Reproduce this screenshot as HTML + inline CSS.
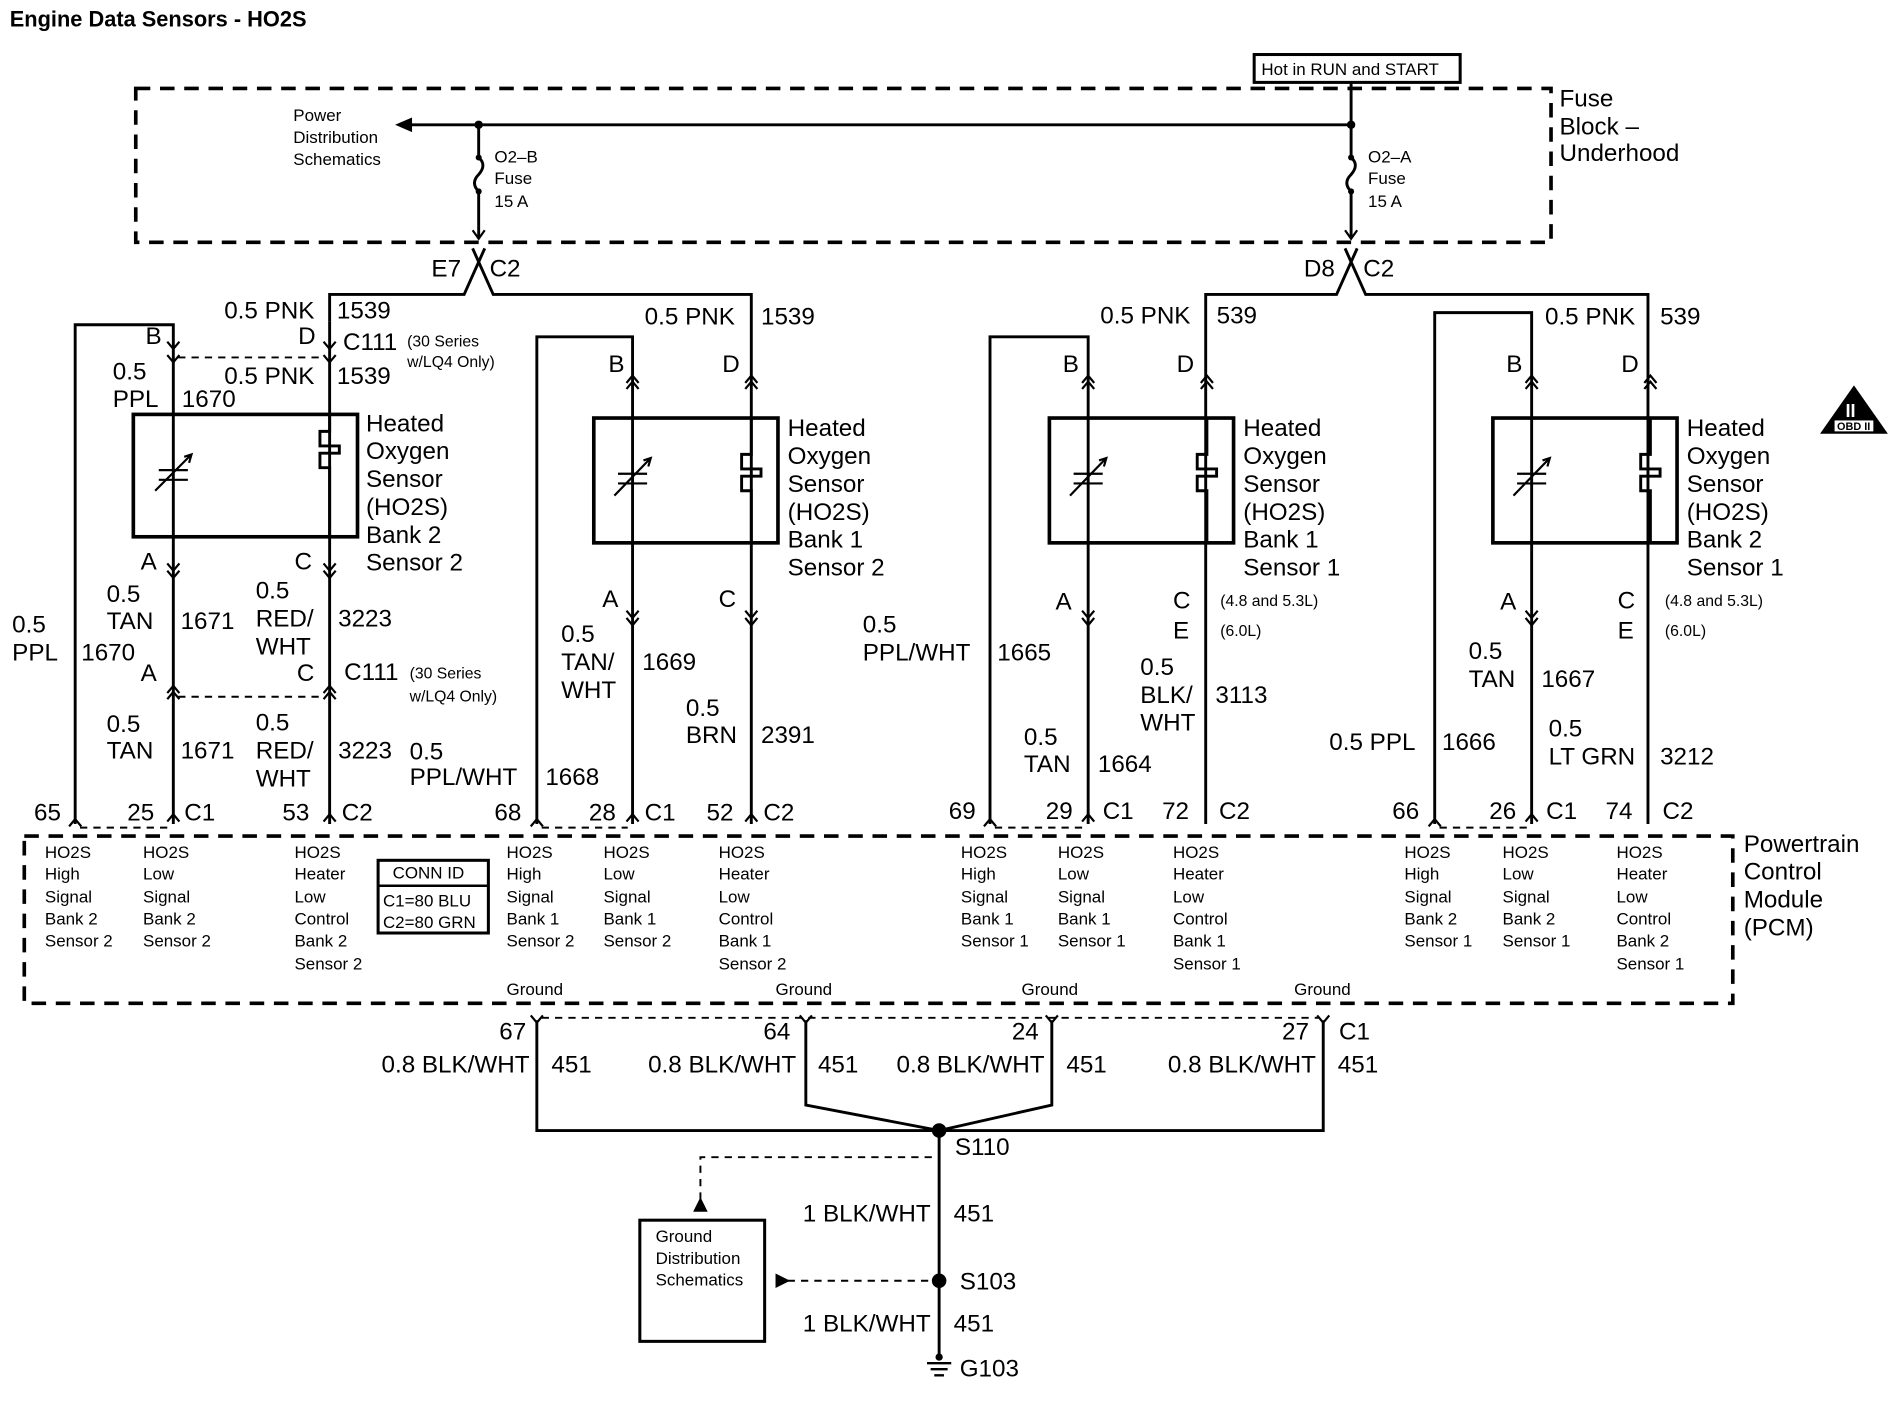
<!DOCTYPE html>
<html><head><meta charset="utf-8"><style>
html,body{margin:0;padding:0;background:#fff}
svg{display:block}
text{font-family:"Liberation Sans",Arial,sans-serif;fill:#000}
.b{font-size:20px}.s{font-size:14px}.m{font-size:13px}
.w{stroke:#000;stroke-width:2.4;fill:none}
.d{stroke:#000;stroke-width:1.6;fill:none;stroke-dasharray:6,5}
.D{stroke:#000;stroke-width:3;fill:none;stroke-dasharray:12,8}
.c{stroke:#000;stroke-width:1.8;fill:none}
</style></head><body>
<svg width="1894" height="1408" viewBox="0 0 1563 1162" xmlns="http://www.w3.org/2000/svg">
<rect width="1563" height="1162" fill="#fff"/>
<text x="8" y="22" style="font-size:18px;font-weight:bold">Engine Data Sensors - HO2S</text>

<!-- Fuse block -->
<rect x="1035" y="45" width="170" height="23" fill="none" stroke="#000" stroke-width="2.5"/>
<text x="1041" y="62" class="s">Hot in RUN and START</text>
<rect x="112" y="73" width="1168" height="127" class="D"/>
<text x="1287" y="88" class="b">Fuse</text><text x="1287" y="111" class="b">Block –</text><text x="1287" y="133" class="b">Underhood</text>
<text x="242" y="100" class="s">Power</text><text x="242" y="118" class="s">Distribution</text><text x="242" y="136" class="s">Schematics</text>
<path class="w" d="M338,103 H1115 V68"/>
<polygon points="326,103 340,97 340,109"/>
<circle cx="395" cy="103" r="3.5"/><circle cx="1115" cy="103" r="3.5"/>
<path class="w" d="M395,103 V130 M395,158 V196 M1115,103 V130 M1115,158 V196"/>
<path class="w" d="M395,130 q7,6 0,14 q-7,7 0,14 M1115,130 q7,6 0,14 q-7,7 0,14"/>
<circle cx="395" cy="130" r="2.5"/><circle cx="395" cy="158" r="2.5"/>
<circle cx="1115" cy="130" r="2.5"/><circle cx="1115" cy="158" r="2.5"/>
<path class="c" d="M390,190 L395,197 L400,190 M1110,190 L1115,197 L1120,190"/>
<text x="408" y="134" class="s">O2–B</text><text x="408" y="152" class="s">Fuse</text><text x="408" y="171" class="s">15 A</text>
<text x="1129" y="134" class="s">O2–A</text><text x="1129" y="152" class="s">Fuse</text><text x="1129" y="171" class="s">15 A</text>

<!-- E7 / D8 connectors -->
<path class="w" d="M272,265 V243 H383 L400,205 M390,205 L407,243 H620 V680"/>
<text x="356" y="228" class="b">E7</text><text x="404" y="228" class="b">C2</text>
<path class="w" d="M995,680 V243 H1103 L1120,205 M1110,205 L1127,243 H1360 V680"/>
<text x="1076" y="228" class="b">D8</text><text x="1125" y="228" class="b">C2</text>

<!-- Left sensor B2S2 -->
<path class="w" d="M62,680 V268 H143 V680 M272,265 V680"/>
<path class="c" d="M138,282 L143,288 L148,282 M138,293 L143,299 L148,293 M267,282 L272,288 L277,282 M267,293 L272,299 L277,293"/>
<path class="d" d="M147,295 H268"/>
<rect x="110" y="342" width="185" height="101" fill="none" stroke="#000" stroke-width="3"/>
<path class="w" d="M272,342 V356 H264 V368 H280 V374 H264 V386 H272 V443" fill="#fff"/>
<path class="c" d="M131,388 H155 M131,396 H155" stroke-width="2.4"/>
<path class="c" d="M128,405 L158,375 M152,377 L158,375 L156,382"/>
<path class="c" d="M138,465 L143,471 L148,465 M138,471 L143,477 L148,471 M267,465 L272,471 L277,465 M267,471 L272,477 L277,471"/>
<path class="c" d="M138,572 L143,566 L148,572 M138,577 L143,571 L148,577 M267,572 L272,566 L277,572 M267,577 L272,571 L277,577"/>
<path class="d" d="M147,575 H268"/>
<text x="185" y="263" class="b">0.5 PNK</text><text x="278" y="263" class="b">1539</text>
<text x="120" y="284" class="b">B</text><text x="246" y="284" class="b">D</text><text x="283" y="289" class="b">C111</text>
<text x="336" y="286" class="m">(30 Series</text><text x="336" y="303" class="m">w/LQ4 Only)</text>
<text x="93" y="313" class="b">0.5</text><text x="93" y="336" class="b">PPL</text><text x="150" y="336" class="b">1670</text>
<text x="185" y="317" class="b">0.5 PNK</text><text x="278" y="317" class="b">1539</text>
<text x="302" y="356" class="b">Heated</text><text x="302" y="379" class="b">Oxygen</text><text x="302" y="402" class="b">Sensor</text><text x="302" y="425" class="b">(HO2S)</text><text x="302" y="448" class="b">Bank 2</text><text x="302" y="471" class="b">Sensor 2</text>
<text x="116" y="470" class="b">A</text><text x="243" y="470" class="b">C</text>
<text x="88" y="497" class="b">0.5</text><text x="88" y="519" class="b">TAN</text><text x="149" y="519" class="b">1671</text>
<text x="211" y="494" class="b">0.5</text><text x="211" y="517" class="b">RED/</text><text x="211" y="540" class="b">WHT</text><text x="279" y="517" class="b">3223</text>
<text x="10" y="522" class="b">0.5</text><text x="10" y="545" class="b">PPL</text><text x="67" y="545" class="b">1670</text>
<text x="116" y="562" class="b">A</text><text x="245" y="562" class="b">C</text><text x="284" y="561" class="b">C111</text>
<text x="338" y="560" class="m">(30 Series</text><text x="338" y="579" class="m">w/LQ4 Only)</text>
<text x="88" y="604" class="b">0.5</text><text x="88" y="626" class="b">TAN</text><text x="149" y="626" class="b">1671</text>
<text x="211" y="603" class="b">0.5</text><text x="211" y="626" class="b">RED/</text><text x="211" y="649" class="b">WHT</text><text x="279" y="626" class="b">3223</text>
<text x="338" y="627" class="b">0.5</text><text x="338" y="648" class="b">PPL/WHT</text><text x="450" y="648" class="b">1668</text>
<text x="28" y="677" class="b">65</text><text x="105" y="677" class="b">25</text><text x="152" y="677" class="b">C1</text><text x="233" y="677" class="b">53</text><text x="282" y="677" class="b">C2</text>

<!-- Generic sensors -->
<g id="sA">
<rect x="490" y="345" width="152" height="103" fill="none" stroke="#000" stroke-width="3"/>
<path class="c" d="M517,316 L522,310 L527,316 M517,321 L522,315 L527,321 M615,316 L620,310 L625,316 M615,321 L620,315 L625,321"/>
<path class="w" d="M522,310 V680"/>
<path class="w" d="M620,345 V375 H612 V387 H628 V393 H612 V405 H620 V448" fill="#fff"/>
<path class="c" d="M510,391 H534 M510,399 H534" stroke-width="2.4"/>
<path class="c" d="M507,409 L537,378 M531,380 L537,378 L535,385"/>
<path class="c" d="M517,504 L522,510 L527,504 M517,510 L522,516 L527,510"/>
<path class="c" d="M517,678 L522,672 L527,678"/>
</g>
<path class="w" d="M443,680 V278 H522 V312"/>
<path class="c" d="M615,504 L620,510 L625,504 M615,510 L620,516 L625,510 M615,678 L620,672 L625,678 M57,682 L62,676 L67,682 M138,678 L143,672 L148,678 M267,678 L272,672 L277,678 M438,682 L443,676 L448,682"/>
<path class="d" d="M66,683 H139 M447,683 H518"/>
<text x="532" y="268" class="b">0.5 PNK</text><text x="628" y="268" class="b">1539</text>
<text x="502" y="307" class="b">B</text><text x="596" y="307" class="b">D</text>
<text x="650" y="360" class="b">Heated</text><text x="650" y="383" class="b">Oxygen</text><text x="650" y="406" class="b">Sensor</text><text x="650" y="429" class="b">(HO2S)</text><text x="650" y="452" class="b">Bank 1</text><text x="650" y="475" class="b">Sensor 2</text>
<text x="497" y="501" class="b">A</text><text x="593" y="501" class="b">C</text>
<text x="463" y="530" class="b">0.5</text><text x="463" y="553" class="b">TAN/</text><text x="463" y="576" class="b">WHT</text><text x="530" y="553" class="b">1669</text>
<text x="566" y="591" class="b">0.5</text><text x="566" y="613" class="b">BRN</text><text x="628" y="613" class="b">2391</text>
<text x="408" y="677" class="b">68</text><text x="486" y="677" class="b">28</text><text x="532" y="677" class="b">C1</text><text x="583" y="677" class="b">52</text><text x="630" y="677" class="b">C2</text>

<use href="#sA" transform="translate(376,0)"/>
<path class="w" d="M817,680 V278 H898 V312"/>
<path class="c" d="M812,682 L817,676 L822,682"/><path class="d" d="M821,683 H894"/>
<text x="908" y="267" class="b">0.5 PNK</text><text x="1004" y="267" class="b">539</text>
<text x="877" y="307" class="b">B</text><text x="971" y="307" class="b">D</text>
<text x="1026" y="360" class="b">Heated</text><text x="1026" y="383" class="b">Oxygen</text><text x="1026" y="406" class="b">Sensor</text><text x="1026" y="429" class="b">(HO2S)</text><text x="1026" y="452" class="b">Bank 1</text><text x="1026" y="475" class="b">Sensor 1</text>
<text x="871" y="503" class="b">A</text><text x="968" y="502" class="b">C</text><text x="968" y="527" class="b">E</text>
<text x="1007" y="500" class="m">(4.8 and 5.3L)</text><text x="1007" y="525" class="m">(6.0L)</text>
<text x="712" y="522" class="b">0.5</text><text x="712" y="545" class="b">PPL/WHT</text><text x="823" y="545" class="b">1665</text>
<text x="941" y="557" class="b">0.5</text><text x="941" y="580" class="b">BLK/</text><text x="941" y="603" class="b">WHT</text><text x="1003" y="580" class="b">3113</text>
<text x="845" y="615" class="b">0.5</text><text x="845" y="637" class="b">TAN</text><text x="906" y="637" class="b">1664</text>
<text x="783" y="676" class="b">69</text><text x="863" y="676" class="b">29</text><text x="910" y="676" class="b">C1</text><text x="959" y="676" class="b">72</text><text x="1006" y="676" class="b">C2</text>

<use href="#sA" transform="translate(742,0)"/>
<path class="w" d="M1184,680 V258 H1264 V312"/>
<path class="c" d="M1179,682 L1184,676 L1189,682"/><path class="d" d="M1188,683 H1260"/>
<text x="1275" y="268" class="b">0.5 PNK</text><text x="1370" y="268" class="b">539</text>
<text x="1243" y="307" class="b">B</text><text x="1338" y="307" class="b">D</text>
<text x="1392" y="360" class="b">Heated</text><text x="1392" y="383" class="b">Oxygen</text><text x="1392" y="406" class="b">Sensor</text><text x="1392" y="429" class="b">(HO2S)</text><text x="1392" y="452" class="b">Bank 2</text><text x="1392" y="475" class="b">Sensor 1</text>
<text x="1238" y="503" class="b">A</text><text x="1335" y="502" class="b">C</text><text x="1335" y="527" class="b">E</text>
<text x="1374" y="500" class="m">(4.8 and 5.3L)</text><text x="1374" y="525" class="m">(6.0L)</text>
<text x="1212" y="544" class="b">0.5</text><text x="1212" y="567" class="b">TAN</text><text x="1272" y="567" class="b">1667</text>
<text x="1097" y="619" class="b">0.5 PPL</text><text x="1190" y="619" class="b">1666</text>
<text x="1278" y="608" class="b">0.5</text><text x="1278" y="631" class="b">LT GRN</text><text x="1370" y="631" class="b">3212</text>
<text x="1149" y="676" class="b">66</text><text x="1229" y="676" class="b">26</text><text x="1276" y="676" class="b">C1</text><text x="1325" y="676" class="b">74</text><text x="1372" y="676" class="b">C2</text>

<!-- OBD II -->
<polygon points="1530,318 1502,358 1558,358" fill="#000"/>
<text x="1523" y="344" style="font-size:15px;font-weight:bold;fill:#fff">II</text>
<rect x="1514" y="347" width="32" height="9" fill="#fff"/>
<text x="1516" y="355" style="font-size:9px;font-weight:bold">OBD II</text>

<!-- PCM -->
<rect x="20" y="690" width="1410" height="138" class="D"/>
<text x="1439" y="703" class="b">Powertrain</text><text x="1439" y="726" class="b">Control</text><text x="1439" y="749" class="b">Module</text><text x="1439" y="772" class="b">(PCM)</text>
<g class="s">
<text x="37" y="708">HO2S</text><text x="37" y="726">High</text><text x="37" y="745">Signal</text><text x="37" y="763">Bank 2</text><text x="37" y="781">Sensor 2</text>
<text x="118" y="708">HO2S</text><text x="118" y="726">Low</text><text x="118" y="745">Signal</text><text x="118" y="763">Bank 2</text><text x="118" y="781">Sensor 2</text>
<text x="243" y="708">HO2S</text><text x="243" y="726">Heater</text><text x="243" y="745">Low</text><text x="243" y="763">Control</text><text x="243" y="781">Bank 2</text><text x="243" y="800">Sensor 2</text>
<text x="418" y="708">HO2S</text><text x="418" y="726">High</text><text x="418" y="745">Signal</text><text x="418" y="763">Bank 1</text><text x="418" y="781">Sensor 2</text>
<text x="498" y="708">HO2S</text><text x="498" y="726">Low</text><text x="498" y="745">Signal</text><text x="498" y="763">Bank 1</text><text x="498" y="781">Sensor 2</text>
<text x="593" y="708">HO2S</text><text x="593" y="726">Heater</text><text x="593" y="745">Low</text><text x="593" y="763">Control</text><text x="593" y="781">Bank 1</text><text x="593" y="800">Sensor 2</text>
<text x="793" y="708">HO2S</text><text x="793" y="726">High</text><text x="793" y="745">Signal</text><text x="793" y="763">Bank 1</text><text x="793" y="781">Sensor 1</text>
<text x="873" y="708">HO2S</text><text x="873" y="726">Low</text><text x="873" y="745">Signal</text><text x="873" y="763">Bank 1</text><text x="873" y="781">Sensor 1</text>
<text x="968" y="708">HO2S</text><text x="968" y="726">Heater</text><text x="968" y="745">Low</text><text x="968" y="763">Control</text><text x="968" y="781">Bank 1</text><text x="968" y="800">Sensor 1</text>
<text x="1159" y="708">HO2S</text><text x="1159" y="726">High</text><text x="1159" y="745">Signal</text><text x="1159" y="763">Bank 2</text><text x="1159" y="781">Sensor 1</text>
<text x="1240" y="708">HO2S</text><text x="1240" y="726">Low</text><text x="1240" y="745">Signal</text><text x="1240" y="763">Bank 2</text><text x="1240" y="781">Sensor 1</text>
<text x="1334" y="708">HO2S</text><text x="1334" y="726">Heater</text><text x="1334" y="745">Low</text><text x="1334" y="763">Control</text><text x="1334" y="781">Bank 2</text><text x="1334" y="800">Sensor 1</text>
<text x="418" y="821">Ground</text><text x="640" y="821">Ground</text><text x="843" y="821">Ground</text><text x="1068" y="821">Ground</text>
<text x="324" y="725">CONN ID</text><text x="316" y="748">C1=80 BLU</text><text x="316" y="766">C2=80 GRN</text>
</g>
<rect x="312" y="710" width="91" height="60" fill="none" stroke="#000" stroke-width="2.5"/>
<line x1="312" y1="731" x2="403" y2="731" stroke="#000" stroke-width="2"/>

<!-- Grounds -->
<path class="w" d="M443,842 V933 H1092 V842 M665,842 V912 L775,933 L868,912 V842 M775,933 V1120"/>
<path class="c" d="M438,838 L443,844 L448,838 M660,838 L665,844 L670,838 M863,838 L868,844 L873,838 M1087,838 L1092,844 L1097,838"/>
<path class="d" d="M447,840 H1088"/>
<circle cx="775" cy="933" r="6"/><circle cx="775" cy="1057" r="6"/>
<text x="412" y="858" class="b">67</text><text x="630" y="858" class="b">64</text><text x="835" y="858" class="b">24</text><text x="1058" y="858" class="b">27</text><text x="1105" y="858" class="b">C1</text>
<g class="b" text-anchor="end"><text x="437" y="885">0.8 BLK/WHT</text><text x="657" y="885">0.8 BLK/WHT</text><text x="862" y="885">0.8 BLK/WHT</text><text x="1086" y="885">0.8 BLK/WHT</text>
<text x="768" y="1008">1 BLK/WHT</text><text x="768" y="1099">1 BLK/WHT</text></g>
<text x="455" y="885" class="b">451</text><text x="675" y="885" class="b">451</text><text x="880" y="885" class="b">451</text><text x="1104" y="885" class="b">451</text>
<text x="787" y="1008" class="b">451</text><text x="787" y="1099" class="b">451</text>
<text x="788" y="953" class="b">S110</text><text x="792" y="1064" class="b">S103</text><text x="792" y="1136" class="b">G103</text>
<path class="d" d="M769,955 H578 V990 M650,1057 H769" stroke-width="2"/>
<polygon points="578,988 572,1000 584,1000"/>
<polygon points="652,1057 640,1051 640,1063"/>
<rect x="528" y="1007" width="103" height="100" fill="none" stroke="#000" stroke-width="2.5"/>
<text x="541" y="1025" class="s">Ground</text><text x="541" y="1043" class="s">Distribution</text><text x="541" y="1061" class="s">Schematics</text>
<circle cx="775" cy="1120" r="3"/>
<path stroke="#000" stroke-width="2" d="M765,1125 H785 M768,1130 H782 M771,1135 H779"/>
</svg>
</body></html>
